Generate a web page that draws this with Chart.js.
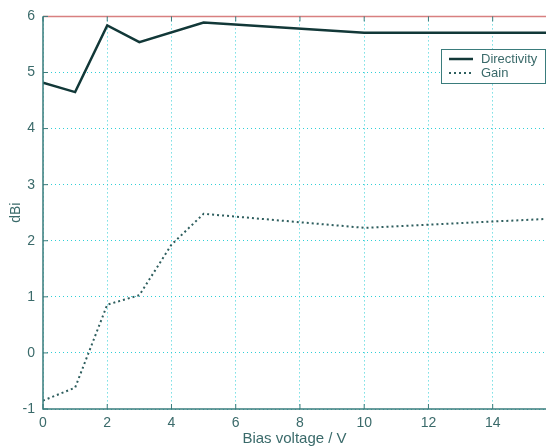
<!DOCTYPE html>
<html>
<head>
<meta charset="utf-8">
<script src="https://cdn.jsdelivr.net/npm/chart.js@4.4.0/dist/chart.umd.min.js"></script>
<style>
  html, body { margin: 0; padding: 0; background: #fff; }
  #wrap { width: 546px; height: 448px; }
</style>
</head>
<body>
<div id="wrap"><canvas id="grafico" width="546" height="448"></canvas></div>
<script>
// dados
const tensao = [0, 1, 2, 3, 5, 10, 15.7];
const diretividade = [4.82, 4.65, 5.84, 5.54, 5.89, 5.71, 5.71];
const tensaoGanho = [0, 1, 2, 3, 4, 5, 10, 15.7];
const ganho = [-0.85, -0.62, 0.86, 1.03, 1.93, 2.48, 2.23, 2.39];
const ticksX = [0, 2, 4, 6, 8, 10, 12, 14];
const ticksY = [-1, 0, 1, 2, 3, 4, 5, 6];
const nomes = ['Directivity', 'Gain'];

const corLinha = '#123838';
const corGrade = '#30cfd6';
const corEixo = '#3a7c7c';
const corTexto = '#3a6a6a';
const fonte = '"Liberation Sans", Arial, sans-serif';

// moldura, eixos e marcas internas estilo MATLAB
const moldura = {
    id: 'moldura',
    afterDatasetsDraw(chart) {
        const { ctx, chartArea: a, scales } = chart;
        ctx.save();
        ctx.strokeStyle = '#d88080';
        ctx.lineWidth = 1.5;
        ctx.beginPath();
        ctx.moveTo(a.left, a.top);
        ctx.lineTo(a.right, a.top);
        ctx.stroke();
        ctx.strokeStyle = corEixo;
        ctx.lineWidth = 1.5;
        ctx.beginPath();
        ctx.moveTo(a.left, a.top);
        ctx.lineTo(a.left, a.bottom);
        ctx.lineTo(a.right, a.bottom);
        ctx.stroke();
        ctx.lineWidth = 1;
        ctx.beginPath();
        ticksX.forEach(v => {
            const px = scales.x.getPixelForValue(v);
            ctx.moveTo(px, a.bottom); ctx.lineTo(px, a.bottom - 5);
            ctx.moveTo(px, a.top); ctx.lineTo(px, a.top + 5);
        });
        ticksY.forEach(v => {
            const py = scales.y.getPixelForValue(v);
            ctx.moveTo(a.left, py); ctx.lineTo(a.left + 5, py);
        });
        ctx.stroke();

        // legenda com caixa
        const bx = 441, by = 49, bw = 104, bh = 34;
        ctx.fillStyle = '#fff';
        ctx.fillRect(bx, by, bw, bh);
        ctx.strokeStyle = corEixo;
        ctx.strokeRect(bx + 0.5, by + 0.5, bw, bh);
        chart.data.datasets.forEach((ds, i) => {
            const y = by + 10 + i * 14;
            ctx.strokeStyle = ds.borderColor;
            ctx.lineWidth = ds.borderWidth;
            ctx.setLineDash(ds.borderDash || []);
            ctx.beginPath();
            ctx.moveTo(bx + 8, y); ctx.lineTo(bx + 32, y);
            ctx.stroke();
            ctx.setLineDash([]);
            ctx.fillStyle = corTexto;
            ctx.font = '13px ' + fonte;
            ctx.textBaseline = 'middle';
            ctx.fillText(nomes[i], bx + 40, y);
        });
        ctx.restore();
    }
};

new Chart(document.getElementById('grafico'), {
    type: 'line',
    data: {
        datasets: [{
            label: nomes[0],
            data: tensao.map((x, i) => ({ x: x, y: diretividade[i] })),
            borderColor: corLinha,
            borderWidth: 2.5,
            pointRadius: 0,
            tension: 0
        }, {
            label: nomes[1],
            data: tensaoGanho.map((x, i) => ({ x: x, y: ganho[i] })),
            borderColor: '#2e5e5e',
            borderWidth: 2,
            borderDash: [2, 3],
            pointRadius: 0,
            tension: 0
        }]
    },
    plugins: [moldura],
    options: {
        responsive: false,
        animation: false,
        layout: { padding: { top: 11, right: 0, left: 0, bottom: 0 } },
        plugins: {
            legend: { display: false },
            tooltip: { enabled: false }
        },
        scales: {
            x: {
                type: 'linear',
                min: 0,
                max: 15.66,
                afterBuildTicks: s => { s.ticks = ticksX.map(v => ({ value: v })); },
                afterFit: s => { s.height = 39; },
                grid: { color: corGrade, lineWidth: 1, drawTicks: false },
                border: { display: false, dash: [1, 3] },
                ticks: {
                    color: corTexto,
                    padding: 6,
                    maxRotation: 0,
                    font: { family: fonte, size: 14 }
                },
                title: {
                    display: true,
                    text: 'Bias voltage / V',
                    color: corTexto,
                    padding: 0,
                    font: { family: fonte, size: 15 }
                }
            },
            y: {
                type: 'linear',
                min: -1,
                max: 6,
                afterBuildTicks: s => { s.ticks = ticksY.map(v => ({ value: v })); },
                afterFit: s => { s.width = 43; },
                grid: { color: corGrade, lineWidth: 1, drawTicks: false },
                border: { display: false, dash: [1, 3] },
                ticks: {
                    color: corTexto,
                    padding: 8,
                    font: { family: fonte, size: 14 }
                },
                title: {
                    display: true,
                    text: 'dBi',
                    color: corTexto,
                    padding: { top: 8, bottom: 0 },
                    font: { family: fonte, size: 14 }
                }
            }
        }
    }
});
</script>
</body>
</html>
